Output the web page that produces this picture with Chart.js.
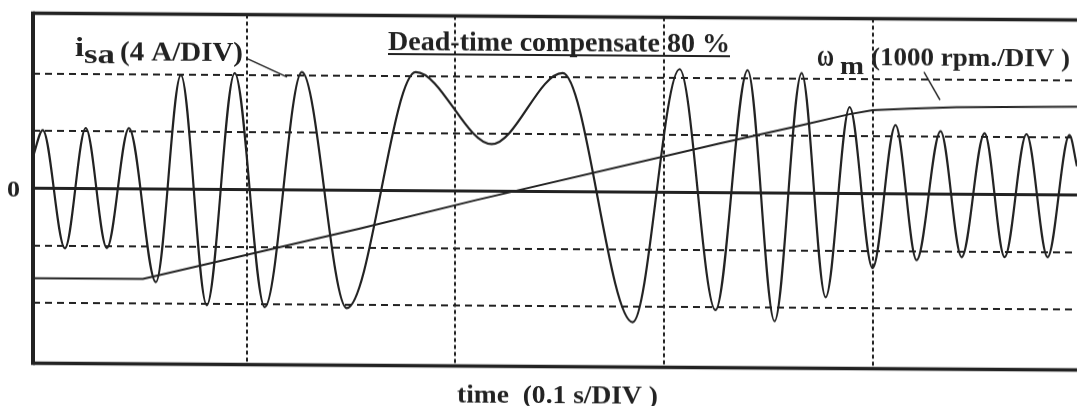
<!DOCTYPE html>
<html>
<head>
<meta charset="utf-8">
<script src="https://cdn.jsdelivr.net/npm/chart.js@4.4.1/dist/chart.umd.min.js"></script>
<style>
  html, body { margin: 0; padding: 0; background: #fff; overflow: hidden; }
  #wrap { width: 1077px; height: 406px; }
  /* the recorder trace is slightly sheared across the sheet */
  canvas { display: block; background: #fff; transform: skewY(0.372deg); transform-origin: 50% 50%; }
</style>
</head>
<body>
<div id="wrap"><canvas id="c" width="1077" height="406"></canvas></div>
<script>
// Stator phase current i_sa (A): crests and troughs during the speed reversal
const isaTime = [-0.0025, 0.0022, 0.0128, 0.0228, 0.0329, 0.0435, 0.0564, 0.0684, 0.0808, 0.0942,
                 0.1086, 0.1264, 0.1479, 0.1810, 0.2174, 0.2514, 0.2850, 0.3075, 0.3247, 0.3401,
                 0.3530, 0.3660, 0.3775, 0.3890, 0.4000, 0.4110, 0.4211, 0.4326, 0.4427, 0.4537,
                 0.4633, 0.4738, 0.4839, 0.4944, 0.4980];
const isaAmps = [2.2, 4.06, -4.18, 4.22, -4.15, 4.23, -6.5, 7.96, -8.09, 8.12,
                 -8.2, 8.22, -8.23, 8.27, 3.28, 8.27, -9.08, 8.6, -8.2, 8.56,
                 -8.95, 8.38, -7.25, 6.02, -5.2, 4.79, -4.62, 4.39, -4.39, 4.27,
                 -4.38, 4.22, -4.36, 4.17, 2.0];

// Rotor speed omega_m (rpm)
const speedTime = [-0.0025, 0.0502, 0.1542, 0.2097, 0.3267, 0.3650, 0.3890, 0.4000, 0.4177, 0.4402, 0.4980];
const speedRpm  = [-1570, -1570, -667, -160, 860, 1176, 1384, 1457, 1487, 1518, 1538];

// Grid divisions: 0.1 s/DIV, 4 A/DIV, 1000 rpm/DIV
const gridTimes = [0.1, 0.2, 0.3, 0.4];
const gridAmps = [-8, -4, 4, 8];
const ampsPerDiv = 4;
const rpmPerDiv = 1000;
const halfSpanDiv = 3.053;
const timeMin = -0.0025;
const timeMax = 0.498;

const ink = '#222';

function pairs(xs, ys) { return xs.map((x, i) => ({ x: x, y: ys[i] })); }

function label(ctx, text, x, y, size, width, weight) {
  ctx.save();
  ctx.font = (weight || 'bold') + ' ' + size + 'px "Liberation Serif", "Times New Roman", serif';
  ctx.fillStyle = ink;
  ctx.textAlign = 'left';
  ctx.textBaseline = 'alphabetic';
  const w = ctx.measureText(text).width;
  ctx.translate(x, y);
  ctx.scale(width / w, 1);
  ctx.fillText(text, 0, 0);
  ctx.restore();
}

function seg(ctx, x1, y1, x2, y2, w) {
  ctx.save();
  ctx.strokeStyle = ink;
  ctx.lineWidth = w;
  ctx.beginPath();
  ctx.moveTo(x1, y1);
  ctx.lineTo(x2, y2);
  ctx.stroke();
  ctx.restore();
}

// Annotations sit under the grid, so the dotted lines run through them
const annotations = {
  id: 'annotations',
  beforeDraw(chart) {
    const ctx = chart.ctx;
    label(ctx, 'i', 75, 58.5, 27, 9);
    label(ctx, 'sa', 84, 65.8, 27, 31);
    label(ctx, '(4 A/DIV)', 120, 62.6, 27, 123);
    seg(ctx, 248, 60.9, 287, 78.6, 1.5);

    label(ctx, 'Dead-time compensate 80 %', 388, 50.5, 28, 342);
    seg(ctx, 388, 55, 730, 55, 2);

    label(ctx, '\u03c9', 817, 63.5, 32, 17);
    label(ctx, 'm', 840, 71.5, 26, 24);
    label(ctx, '(1000 rpm./DIV )', 871, 63, 26, 199);
    seg(ctx, 924, 69.5, 940, 97.4, 1.5);

    label(ctx, '0', 7, 200.1, 23, 13);
    label(ctx, 'time  (0.1 s/DIV )', 457, 402.5, 25, 201);
  }
};

// Frame and the solid zero line
const frame = {
  id: 'frame',
  beforeDatasetsDraw(chart) {
    const ctx = chart.ctx;
    const a = chart.chartArea;
    const y0 = chart.scales.y.getPixelForValue(0);
    seg(ctx, a.left, y0, a.right, y0, 3);
    seg(ctx, a.left, a.top, a.right, a.top, 3.5);
    seg(ctx, a.left, a.bottom, a.right, a.bottom, 3.5);
    seg(ctx, a.left, a.top - 1.75, a.left, a.bottom + 1.75, 4);
  }
};

new Chart(document.getElementById('c'), {
  type: 'line',
  data: {
    datasets: [
      {
        label: 'i_sa',
        data: pairs(isaTime, isaAmps),
        yAxisID: 'y',
        borderColor: ink,
        borderWidth: 2.2,
        pointRadius: 0,
        cubicInterpolationMode: 'monotone',
        fill: false
      },
      {
        label: 'omega_m',
        data: pairs(speedTime, speedRpm),
        yAxisID: 'y2',
        borderColor: ink,
        borderWidth: 2,
        pointRadius: 0,
        tension: 0,
        fill: false
      }
    ]
  },
  options: {
    responsive: false,
    animation: false,
    devicePixelRatio: 1,
    layout: { padding: { left: 33, top: 16.5, right: 0, bottom: 39.6 } },
    plugins: { legend: { display: false }, tooltip: { enabled: false } },
    scales: {
      x: {
        type: 'linear',
        min: timeMin,
        max: timeMax,
        afterBuildTicks(axis) { axis.ticks = gridTimes.map(v => ({ value: v })); },
        afterFit(axis) { axis.height = 0; },
        ticks: { display: false },
        grid: { color: ink, lineWidth: 2, drawTicks: false },
        border: { display: false, dash: [4, 3] }
      },
      y: {
        type: 'linear',
        min: -halfSpanDiv * ampsPerDiv,
        max: halfSpanDiv * ampsPerDiv,
        afterBuildTicks(axis) { axis.ticks = gridAmps.map(v => ({ value: v })); },
        afterFit(axis) { axis.width = 0; },
        ticks: { display: false },
        grid: { color: ink, lineWidth: 2, drawTicks: false },
        border: { display: false, dash: [7, 5] }
      },
      y2: {
        type: 'linear',
        position: 'right',
        min: -halfSpanDiv * rpmPerDiv,
        max: halfSpanDiv * rpmPerDiv,
        afterFit(axis) { axis.width = 0; },
        ticks: { display: false },
        grid: { display: false, drawTicks: false },
        border: { display: false }
      }
    }
  },
  plugins: [annotations, frame]
});
</script>
</body>
</html>
